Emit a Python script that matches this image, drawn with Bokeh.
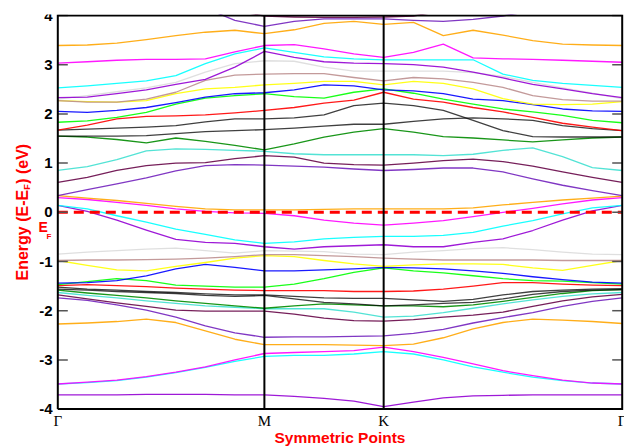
import numpy as np
from bokeh.plotting import figure
from bokeh.models import Label, Range1d
from bokeh.core.properties import value
from bokeh.embed import file_html
from bokeh.resources import INLINE

# ---- k-path: Γ-M, M-K, K-Γ (hexagonal BZ, units of 2π/a) ----
seg_lengths = [1 / np.sqrt(3), 1 / 3, 2 / 3]
seg_steps = [7, 4, 8]
kpath = [0.0]
for L, n in zip(seg_lengths, seg_steps):
    start = kpath[-1]
    kpath += [start + L * (i + 1) / n for i in range(n)]
k_ticks = [0.0, seg_lengths[0], seg_lengths[0] + seg_lengths[1], sum(seg_lengths)]
k_labels = ["Γ", "M", "K", "Γ"]
y_ticks = [-4, -3, -2, -1, 0, 1, 2, 3, 4]
y_tick_labels = ["-4", "-3", "-2", "-1", "0", "1", "2", "3", "4"]
fermi_level = 0.0

# ---- band energies (eV, relative to E_F), read at the 20 k-points ----
maroon_top  = [4.3,4.3,4.3,4.3,4.3,4.25,4.1,3.99,3.97,3.96,3.96,3.97,3.99,4.1,4.3,4.3,4.3,4.3,4.3,4.3]
indigo_top  = [4.6,4.5,4.4,4.3,4.25,4.15,3.90,3.78,3.88,3.93,3.93,3.93,3.90,3.88,3.92,3.99,4.1,4.3,4.4,4.5]
orange_top  = [3.39,3.40,3.44,3.51,3.59,3.66,3.70,3.63,3.71,3.84,3.88,3.82,3.86,3.59,3.70,3.60,3.49,3.42,3.40,3.39]
magenta_top = [3.03,3.06,3.09,3.11,3.11,3.12,3.26,3.39,3.41,3.32,3.22,3.15,3.25,3.42,3.14,3.12,3.11,3.09,3.07,3.05]
cyan_top    = [2.53,2.57,2.62,2.67,2.78,3.02,3.22,3.34,3.25,3.16,3.12,3.10,3.10,3.10,3.10,2.81,2.68,2.62,2.58,2.54]
violet_top  = [2.33,2.34,2.41,2.49,2.60,2.70,2.95,3.27,3.15,3.06,3.03,3.02,3.00,2.95,2.85,2.73,2.60,2.51,2.41,2.33]
grey_top    = [2.30,2.37,2.45,2.53,2.64,2.85,3.02,3.08,3.07,2.95,2.87,2.87,2.87,2.87,2.84,2.76,2.64,2.53,2.42,2.31]
brown_top   = [2.27,2.24,2.24,2.30,2.44,2.68,2.79,2.81,2.82,2.82,2.74,2.67,2.74,2.71,2.64,2.54,2.37,2.29,2.26,2.26]
yellow_top  = [2.27,2.25,2.24,2.27,2.41,2.51,2.54,2.59,2.62,2.66,2.66,2.59,2.66,2.62,2.51,2.31,2.20,2.19,2.20,2.25]
blue_top    = [2.05,2.03,2.07,2.13,2.23,2.34,2.41,2.43,2.49,2.59,2.57,2.49,2.47,2.41,2.30,2.27,2.19,2.10,2.06,2.05]
green_top   = [1.83,1.86,1.93,2.03,2.20,2.32,2.37,2.41,2.35,2.32,2.44,2.51,2.42,2.30,2.20,2.10,2.04,1.97,1.87,1.82]
red_top     = [1.67,1.77,1.90,1.95,1.96,1.98,2.02,2.07,2.13,2.22,2.28,2.44,2.30,2.24,2.13,2.04,1.93,1.81,1.73,1.66]
black_top1  = [1.67,1.69,1.71,1.73,1.76,1.84,1.90,1.90,1.92,1.98,2.17,2.22,2.17,2.07,1.87,1.66,1.54,1.53,1.53,1.53]
black_top2  = [1.55,1.55,1.55,1.56,1.60,1.64,1.66,1.68,1.71,1.75,1.79,1.79,1.85,1.90,1.92,1.90,1.87,1.76,1.70,1.66]
green4_top  = [1.55,1.53,1.48,1.41,1.51,1.44,1.36,1.27,1.39,1.53,1.63,1.70,1.63,1.54,1.51,1.47,1.43,1.47,1.51,1.53]
turq_top    = [0.85,0.93,1.07,1.25,1.29,1.28,1.26,1.24,1.19,1.17,1.17,1.17,1.17,1.15,1.18,1.26,1.31,1.13,0.91,0.85]
maroon_mid  = [0.61,0.71,0.85,0.95,1.00,1.01,1.09,1.15,1.12,1.00,0.97,0.96,1.00,1.05,1.08,1.03,0.94,0.82,0.71,0.61]
indigo_mid  = [0.34,0.46,0.58,0.70,0.84,0.95,0.97,0.96,0.94,0.92,0.88,0.85,0.87,0.90,0.90,0.82,0.68,0.55,0.44,0.34]
orange_ef   = [0.34,0.29,0.24,0.18,0.12,0.07,0.05,0.05,0.05,0.06,0.07,0.07,0.07,0.07,0.09,0.15,0.20,0.25,0.29,0.33]
magenta_ef  = [0.30,0.26,0.20,0.14,0.07,0.02,-0.01,-0.02,-0.07,-0.16,-0.22,-0.26,-0.22,-0.17,-0.09,0.00,0.08,0.17,0.25,0.30]
cyan_ef     = [0.14,0.07,-0.07,-0.20,-0.34,-0.45,-0.56,-0.63,-0.60,-0.54,-0.51,-0.49,-0.49,-0.47,-0.41,-0.28,-0.17,-0.03,0.09,0.14]
violet_ef   = [0.14,0.02,-0.16,-0.36,-0.55,-0.61,-0.63,-0.70,-0.75,-0.70,-0.68,-0.66,-0.70,-0.70,-0.61,-0.54,-0.37,-0.16,0.03,0.14]
grey_low    = [-0.85,-0.81,-0.78,-0.75,-0.73,-0.78,-0.83,-0.78,-0.79,-0.80,-0.85,-0.86,-0.81,-0.78,-0.74,-0.72,-0.76,-0.81,-0.85,-0.86]
brown_low   = [-0.98,-0.97,-0.97,-0.96,-0.95,-0.93,-0.90,-0.86,-0.86,-0.88,-0.90,-0.93,-0.95,-0.97,-0.97,-0.97,-0.97,-0.98,-0.98,-0.98]
yellow_low  = [-0.98,-1.08,-1.17,-1.19,-1.10,-1.02,-0.93,-0.88,-0.90,-0.98,-1.05,-1.10,-1.07,-1.05,-1.05,-1.06,-1.13,-1.18,-1.08,-0.98]
blue_low    = [-1.44,-1.43,-1.39,-1.29,-1.15,-1.06,-1.12,-1.19,-1.19,-1.17,-1.15,-1.12,-1.13,-1.15,-1.19,-1.24,-1.31,-1.37,-1.42,-1.44]
green_low   = [-1.47,-1.41,-1.35,-1.39,-1.48,-1.50,-1.52,-1.52,-1.46,-1.35,-1.22,-1.13,-1.19,-1.23,-1.29,-1.35,-1.39,-1.40,-1.43,-1.46]
red_low     = [-1.49,-1.47,-1.49,-1.51,-1.54,-1.56,-1.58,-1.59,-1.59,-1.59,-1.61,-1.61,-1.60,-1.56,-1.50,-1.43,-1.43,-1.46,-1.48,-1.49]
black_low1  = [-1.52,-1.56,-1.58,-1.61,-1.63,-1.66,-1.68,-1.68,-1.71,-1.74,-1.75,-1.75,-1.78,-1.81,-1.77,-1.68,-1.61,-1.58,-1.56,-1.55]
black_low2  = [-1.56,-1.58,-1.61,-1.63,-1.65,-1.69,-1.71,-1.69,-1.76,-1.83,-1.86,-1.90,-1.88,-1.85,-1.83,-1.76,-1.67,-1.61,-1.58,-1.57]
green4_low  = [-1.58,-1.64,-1.69,-1.74,-1.80,-1.85,-1.90,-1.95,-1.90,-1.86,-1.88,-1.90,-1.90,-1.92,-1.88,-1.81,-1.73,-1.65,-1.59,-1.57]
turq_low    = [-1.63,-1.69,-1.74,-1.80,-1.85,-1.90,-1.93,-1.96,-1.96,-1.96,-2.03,-2.13,-2.11,-2.04,-1.95,-1.86,-1.78,-1.71,-1.66,-1.63]
maroon_low  = [-1.68,-1.76,-1.84,-1.91,-1.99,-2.01,-2.01,-2.01,-2.07,-2.15,-2.20,-2.21,-2.18,-2.13,-2.09,-2.03,-1.91,-1.80,-1.72,-1.67]
indigo_low  = [-1.74,-1.79,-1.88,-1.99,-2.13,-2.31,-2.45,-2.54,-2.53,-2.53,-2.52,-2.51,-2.46,-2.38,-2.25,-2.14,-2.04,-1.91,-1.81,-1.74]
orange_low  = [-2.27,-2.25,-2.22,-2.17,-2.24,-2.41,-2.58,-2.69,-2.69,-2.69,-2.70,-2.71,-2.68,-2.55,-2.37,-2.24,-2.17,-2.19,-2.22,-2.26]
magenta_low = [-3.49,-3.45,-3.41,-3.34,-3.25,-3.14,-3.00,-2.87,-2.85,-2.83,-2.81,-2.74,-2.83,-2.95,-3.08,-3.22,-3.32,-3.41,-3.47,-3.49]
cyan_low    = [-3.49,-3.46,-3.42,-3.35,-3.26,-3.15,-3.03,-2.93,-2.91,-2.91,-2.88,-2.83,-2.88,-3.00,-3.14,-3.25,-3.35,-3.42,-3.47,-3.49]
violet_low  = [-3.71,-3.71,-3.71,-3.70,-3.70,-3.70,-3.71,-3.71,-3.74,-3.78,-3.84,-3.95,-3.86,-3.77,-3.73,-3.72,-3.71,-3.71,-3.71,-3.71]

# xmgrace palette
C = dict(black="#000000", red="#ff0000", green="#00ff00", blue="#0000ff",
         yellow="#ffff00", brown="#bc8f8f", grey="#dcdcdc", violet="#9400d3",
         cyan="#00ffff", magenta="#ff00ff", orange="#ffa500", indigo="#7221bc",
         maroon="#670748", turquoise="#40e0d0", green4="#008b00")

bands = [
    (violet_low, "violet"), (cyan_low, "cyan"), (magenta_low, "magenta"),
    (orange_low, "orange"), (indigo_low, "indigo"), (maroon_low, "maroon"),
    (turq_low, "turquoise"), (green4_low, "green4"), (black_low2, "black"),
    (black_low1, "black"), (red_low, "red"), (green_low, "green"),
    (blue_low, "blue"), (yellow_low, "yellow"), (brown_low, "brown"),
    (grey_low, "grey"), (violet_ef, "violet"), (cyan_ef, "cyan"),
    (magenta_ef, "magenta"), (orange_ef, "orange"), (indigo_mid, "indigo"),
    (maroon_mid, "maroon"), (turq_top, "turquoise"), (green4_top, "green4"),
    (black_top2, "black"), (black_top1, "black"), (red_top, "red"),
    (green_top, "green"), (blue_top, "blue"), (yellow_top, "yellow"),
    (brown_top, "brown"), (grey_top, "grey"), (violet_top, "violet"),
    (cyan_top, "cyan"), (magenta_top, "magenta"), (orange_top, "orange"),
    (indigo_top, "indigo"), (maroon_top, "maroon"),
]

# ---- layout: page-pixel placement of the plot box ----
W, H = 624, 448
BOX_L, BOX_R, BOX_T, BOX_B = 57.3, 621.7, 15.0, 408.6
FRAME_TOP = 14
k0, kmax = k_ticks[0], k_ticks[-1]
ymin, ymax = y_ticks[0], y_ticks[-1]
sx = (BOX_R - BOX_L) / (kmax - k0)
sy = (BOX_B - BOX_T) / (ymax - ymin)

def dx(px):
    return k0 + (px - BOX_L) / sx

def dy(py):
    return ymax - (py - BOX_T) / sy

p = figure(width=W, height=H, output_backend="svg", toolbar_location=None,
           x_axis_location=None, y_axis_location=None,
           x_range=Range1d(dx(0), dx(W)), y_range=Range1d(dy(H), dy(FRAME_TOP)),
           min_border_left=0, min_border_right=0, min_border_top=FRAME_TOP,
           min_border_bottom=0)
p.outline_line_color = None
p.grid.visible = False

# bands
for vals, cname in bands:
    alpha = 0.75 if cname == "black" else 0.9
    p.line(kpath, vals, line_color=C[cname], line_width=1.3, line_alpha=alpha,
           line_join="round")

# Fermi level
p.segment(x0=[k0], y0=[fermi_level], x1=[kmax], y1=[fermi_level],
          line_color="red", line_dash="10 6", line_width=3)

# high-symmetry verticals
p.segment(x0=k_ticks[1:3], y0=[ymin] * 2, x1=k_ticks[1:3], y1=[ymax] * 2,
          line_color="black", line_width=2)

# ticks (inward, left and right)
tick_len = 10 / sx
n = len(y_ticks)
p.segment(x0=[k0] * n, y0=y_ticks, x1=[k0 + tick_len] * n, y1=y_ticks,
          line_color="#555555", line_width=1.5)
p.segment(x0=[kmax - tick_len] * n, y0=y_ticks, x1=[kmax] * n, y1=y_ticks,
          line_color="#555555", line_width=1.5)

# plot box
p.line(x=[k0, k0, kmax, kmax, k0], y=[ymin, ymax, ymax, ymin, ymin],
       line_color="black", line_width=2, line_join="miter")

# tick labels
p.text(x=[dx(52)] * n, y=y_ticks, text=y_tick_labels, text_align="right",
       text_baseline="middle", text_font=value("Liberation Sans"),
       text_font_style="bold", text_font_size="15px", text_color="black")
p.text(x=k_ticks, y=[dy(420)] * len(k_ticks), text=k_labels, text_align="center",
       text_baseline="middle", text_font=value("Liberation Serif"),
       text_font_size="15px", text_color="black")

red_bold = dict(text_color="red", text_font="Liberation Sans", text_font_style="bold")

# x title
p.add_layout(Label(x=dx(339.5), y=dy(436.8), text="Symmetric Points",
                   text_font_size="15.5px", text_align="center",
                   text_baseline="middle", **red_bold))

# E_F marker beside the Fermi level
p.add_layout(Label(x=dx(38.0), y=dy(226.7), text="E", text_font_size="14px",
                   text_align="left", text_baseline="middle", **red_bold))
p.add_layout(Label(x=dx(46.0), y=dy(235.5), text="F", text_font_size="8px",
                   text_align="left", text_baseline="middle", **red_bold))

# y title: Energy (E-E_F) (eV)  (rotated pieces drawn last)
p.add_layout(Label(x=dx(21.5), y=dy(280), text="Energy (E-E", angle=90, angle_units="deg",
                   text_font_size="16px", text_align="left", text_baseline="middle", **red_bold))
p.add_layout(Label(x=dx(26.7), y=dy(189.3), text="F", angle=90, angle_units="deg",
                   text_font_size="9px", text_align="left", text_baseline="middle", **red_bold))
p.add_layout(Label(x=dx(21.5), y=dy(183.3), text=") (eV)", angle=90, angle_units="deg",
                   text_font_size="16px", text_align="left", text_baseline="middle", **red_bold))

open("out.html", "w").write(file_html(p, INLINE))
